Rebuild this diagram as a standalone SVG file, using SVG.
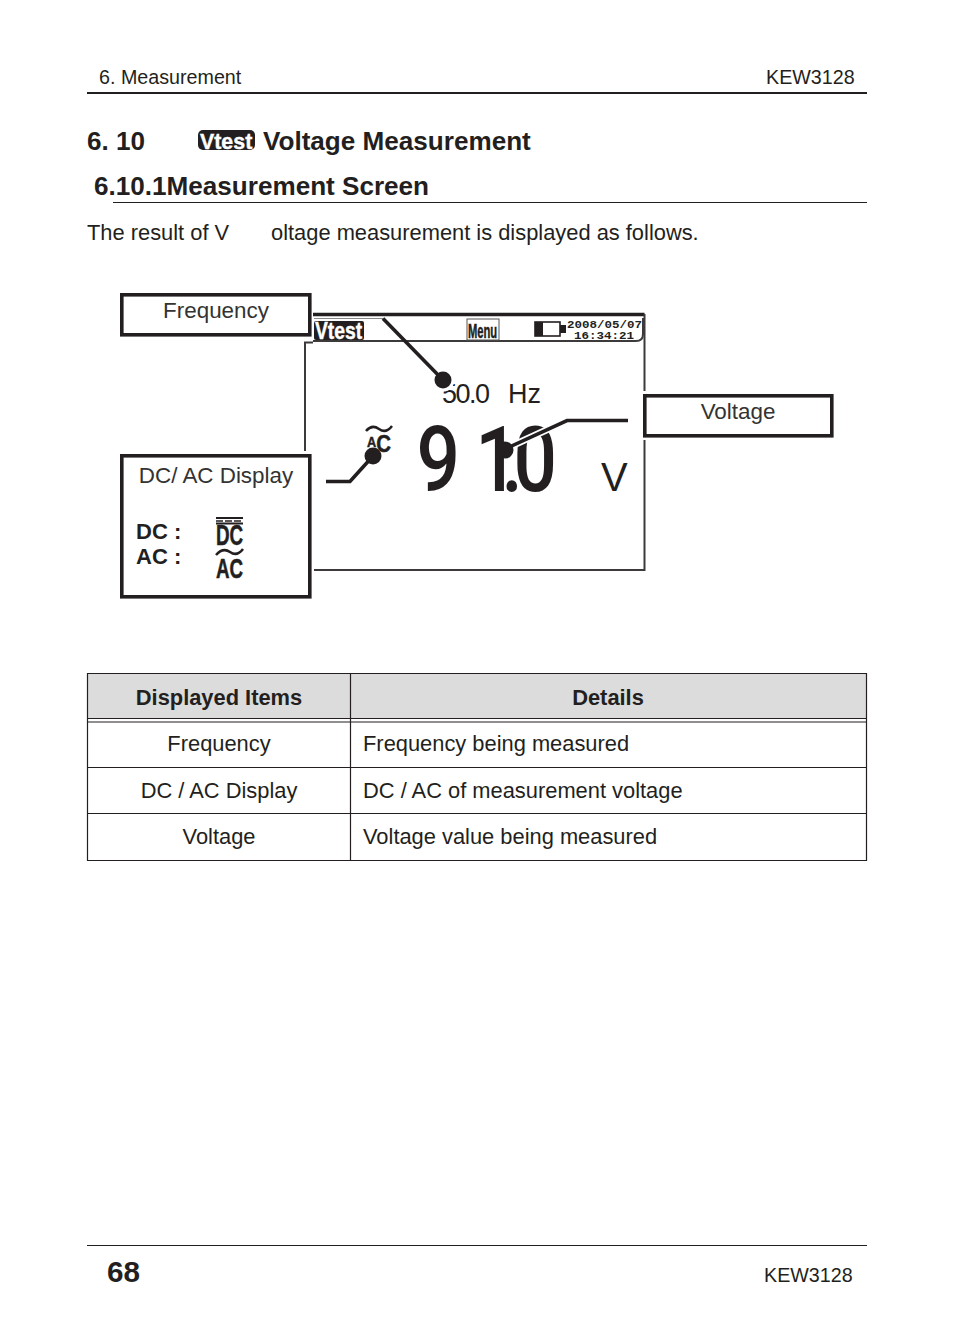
<svg xmlns="http://www.w3.org/2000/svg" width="954" height="1339" viewBox="0 0 954 1339">
<style>
text{font-family:"Liberation Sans",Arial,sans-serif;fill:#231f20}
.b{font-weight:700}
.h{font-size:19.7px}
.t{font-size:21.87px}
.h1{font-size:26.1px;font-weight:700}
.m{text-anchor:middle}
.lbl{font-size:22.4px;fill:#333}
.box{fill:#fff;stroke:#231f20;stroke-width:3.6}
.conn{fill:none;stroke:#231f20;stroke-width:3.6}
.halo{fill:none;stroke:#fff;stroke-width:7}
.lcd{fill:none;stroke:#3c3a3a;stroke-width:2}
.rule{stroke:#231f20;fill:none}
.cell{fill:none;stroke:#231f20;stroke-width:1.2}
.cnd{font-weight:700;stroke:#231f20;stroke-width:.5}
.badge{font-size:23px;font-weight:700;fill:#fff;stroke:#fff;stroke-width:.4}
.mono{font-family:"Liberation Mono",monospace;font-weight:700;font-size:10.2px}
</style>
<g id="page-text">
<text class="h" x="99" y="84">6. Measurement</text>
<text class="h" x="766" y="84">KEW3128</text>
<path class="rule" stroke-width="2" d="M87 93H867"/>
<text class="h1" x="87" y="150">6. 10</text>
<rect x="198" y="130" width="57" height="20" rx="5" fill="#231f20"/>
<text class="badge" transform="translate(200,148.5) scale(.93,1)">Vtest</text>
<text class="h1" x="263" y="150">Voltage Measurement</text>
<text class="h1" x="94" y="195">6.10.1Measurement Screen</text>
<path class="rule" stroke-width="1" d="M113 202.5H867"/>
<text class="t" x="87" y="240">The result of V</text>
<text class="t" x="271" y="240">oltage measurement is displayed as follows.</text>
</g>
<g id="lcd-screen">
<path class="lcd" d="M305 451V342.5H313"/>
<path d="M313 314.5H644.5" stroke="#231f20" stroke-width="3.5" fill="none"/>
<path class="lcd" d="M644.5 314V391M644.5 440V570H314"/>
<path class="lcd" d="M313 341H636Q643 341 643 334V318" stroke-width="1.5"/>
<path d="M314 318.5H383" stroke="#888" stroke-width="1" fill="none"/>
<rect x="314" y="321" width="50" height="19" fill="#231f20" rx="2"/>
<text class="badge" transform="translate(315,338.5) scale(.84,1)">Vtest</text>
<rect x="467" y="319" width="32" height="21" fill="#fff" stroke="#555" stroke-width="1"/>
<text class="cnd" transform="translate(468,338) scale(.56,1)" style="font-size:20px">Menu</text>
<rect x="535" y="322" width="25" height="14" fill="#fff" stroke="#231f20" stroke-width="1.6"/>
<rect x="535" y="322" width="8" height="14" fill="#231f20"/>
<rect x="560" y="325" width="6" height="8" fill="#231f20"/>
<text class="mono" x="567" y="327.5" textLength="75" lengthAdjust="spacingAndGlyphs">2008/05/07</text>
<text class="mono" x="574" y="339" textLength="60" lengthAdjust="spacingAndGlyphs">16:34:21</text>
<text x="442" y="403" style="font-size:27px" textLength="48">50.0</text>
<text x="508" y="403" style="font-size:27px">Hz</text>
<text style="font-family:Roboto,sans-serif;font-weight:500;font-size:90px" transform="scale(.85,1)" y="491" x="490 559 590 604">91.0</text>
<text x="601" y="491" style="font-size:40px">V</text>
<path d="M366 431q6-7 13-2t13-3" fill="none" stroke="#231f20" stroke-width="2.5"/>
<text class="cnd" transform="translate(367,447) scale(.85,1)"><tspan style="font-size:15px">A</tspan><tspan dy="5" style="font-size:24px">C</tspan></text>
</g>
<g id="connectors">
<circle cx="443" cy="380" r="11.5" fill="#fff"/>
<path class="conn" d="M383 318.5L443 380"/>
<circle cx="443" cy="380" r="8.5" fill="#231f20"/>
<path class="conn" d="M326 481.5H350L373 456"/>
<circle cx="373" cy="456" r="8.5" fill="#231f20"/>
<path class="halo" d="M628 420.5H567L505 449"/>
<path class="conn" d="M628 420.5H567L505 449"/>
<circle cx="505" cy="450" r="8.5" fill="#231f20"/>
</g>
<g id="node-frequency">
<rect class="box" x="121.8" y="294.8" width="188" height="40"/>
<text class="lbl m" x="216" y="318">Frequency</text>
</g>
<g id="node-dcac">
<rect class="box" x="121.8" y="455.8" width="188" height="141"/>
<text class="lbl m" x="216" y="483">DC/ AC Display</text>
<text class="b" x="136" y="539" style="font-size:22px">DC :</text>
<text class="b" x="136" y="564" style="font-size:22px">AC :</text>
<path d="M216 518H243" stroke="#231f20" stroke-width="2" fill="none"/>
<path d="M216 521H243" stroke="#231f20" stroke-width="1.5" stroke-dasharray="7 2" fill="none"/>
<path d="M216 523.5H243" stroke="#231f20" stroke-width="2" fill="none"/>
<text class="cnd" transform="translate(216,545) scale(.65,1)" style="font-size:29px">DC</text>
<path d="M216 555q7-8 14-3t13-3" fill="none" stroke="#231f20" stroke-width="2.5"/>
<text class="cnd" transform="translate(216,578) scale(.67,1)" style="font-size:28px">AC</text>
</g>
<g id="node-voltage">
<rect class="box" x="644.8" y="395.8" width="187" height="40"/>
<text class="lbl m" x="738" y="419">Voltage</text>
</g>
<g id="table">
<rect x="87.5" y="673.5" width="779" height="45" fill="#dcdcdc"/>
<path class="cell" d="M87.5 673.5H866.5V860.5H87.5ZM87.5 718.5H866.5M87.5 722H866.5M87.5 767.5H866.5M87.5 813.5H866.5M350.5 673.5V860.5"/>
<text class="t b m" x="219" y="705">Displayed Items</text>
<text class="t b m" x="608" y="705">Details</text>
<text class="t m" x="219" y="751">Frequency</text>
<text class="t" x="363" y="751">Frequency being measured</text>
<text class="t m" x="219" y="798">DC / AC Display</text>
<text class="t" x="363" y="798">DC / AC of measurement voltage</text>
<text class="t m" x="219" y="844">Voltage</text>
<text class="t" x="363" y="844">Voltage value being measured</text>
</g>
<g id="footer">
<path class="rule" stroke-width="1" d="M87 1245.5H867"/>
<text class="b" x="107" y="1282" style="font-size:29.7px">68</text>
<text class="h" x="764" y="1282">KEW3128</text>
</g>
</svg>
